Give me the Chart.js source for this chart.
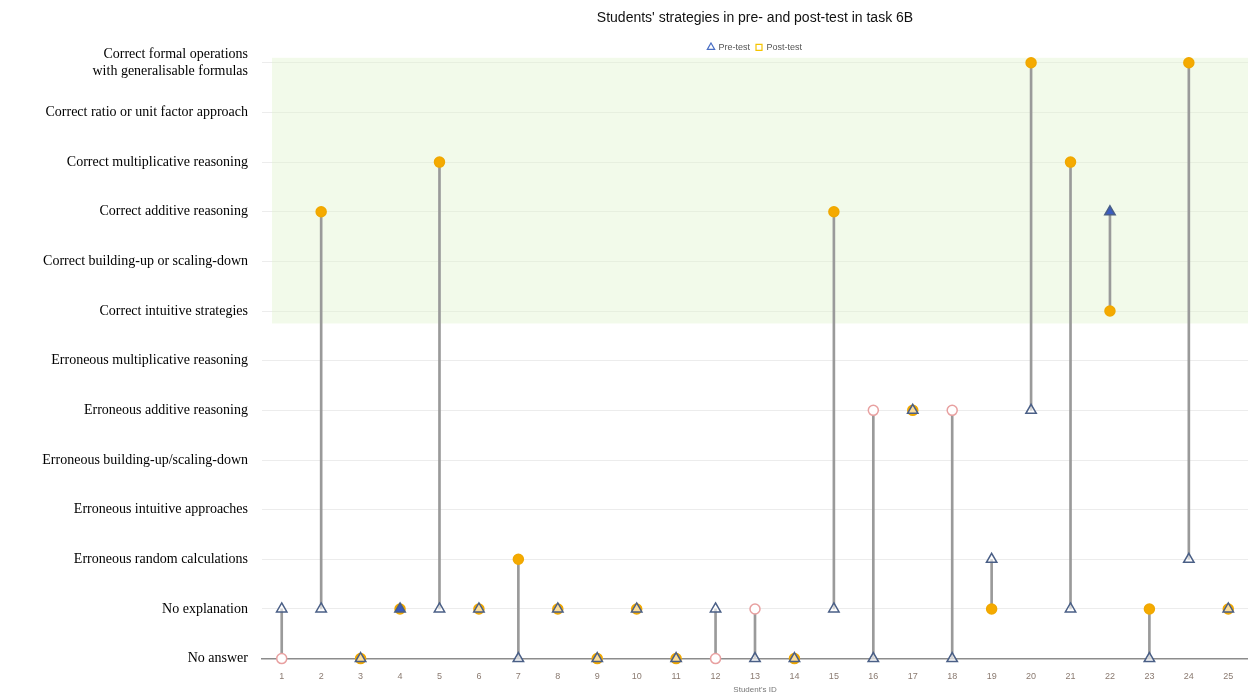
<!DOCTYPE html>
<html>
<head>
<meta charset="utf-8">
<script src="https://cdn.jsdelivr.net/npm/chart.js@4.4.1/dist/chart.umd.min.js"></script>
<style>
  html, body { margin: 0; padding: 0; background: #ffffff; }
  #wrap { width: 1248px; height: 695px; position: relative; }
</style>
</head>
<body>
<div id="wrap"><canvas id="c"></canvas></div>
<script>
const studentIds = ['1','2','3','4','5','6','7','8','9','10','11','12','13','14','15','16','17','18','19','20','21','22','23','24','25'];
const strategyLabels = [
  'No answer',
  'No explanation',
  'Erroneous random calculations',
  'Erroneous intuitive approaches',
  'Erroneous building-up/scaling-down',
  'Erroneous additive reasoning',
  'Erroneous multiplicative reasoning',
  'Correct intuitive strategies',
  'Correct building-up or scaling-down',
  'Correct additive reasoning',
  'Correct multiplicative reasoning',
  'Correct ratio or unit factor approach',
  ['Correct formal operations', 'with generalisable formulas']
];
const preTest  = [1,1,0,1,1,1,0,1,0,1,0,1,0,0,1,0,5,0,2,5,1,9,0,2,1];
const postTest = [0,9,0,1,10,1,2,1,0,1,0,0,1,0,9,5,5,5,1,12,10,7,1,12,1];
const openPostIds = ['1','12','13','16','18'];
const filledPreIds = ['4','22'];

const changeRanges = preTest.map((p, i) => [p, postTest[i]]);

const bandPlugin = {
  id: 'band',
  beforeDatasetsDraw(chart) {
    const {ctx, chartArea, scales} = chart;
    const y = scales.y;
    const top = y.getPixelForValue(12.1);
    const bot = y.getPixelForValue(6.75);
    ctx.save();
    ctx.fillStyle = 'rgba(226, 244, 208, 0.45)';
    ctx.fillRect(chartArea.left + 10, top, chartArea.right - chartArea.left - 10, bot - top);
    ctx.restore();
  }
};

const legendGap = {
  id: 'legendGap',
  beforeInit(chart) {
    const origFit = chart.legend.fit;
    chart.legend.fit = function () {
      origFit.bind(chart.legend)();
      this.height += 1;
    };
  }
};

new Chart(document.getElementById('c'), {
  type: 'bar',
  data: {
    labels: studentIds,
    datasets: [
      {
        type: 'line',
        label: 'Pre-test',
        data: preTest,
        showLine: false,
        pointStyle: 'triangle',
        pointRadius: 6,
        pointBorderWidth: 1.5,
        pointBorderColor: '#4a5f86',
        pointBackgroundColor: (c) => filledPreIds.includes(studentIds[c.dataIndex]) ? '#3a5cc0' : 'rgba(255,255,255,0.6)',
        backgroundColor: '#4a6fc4',
        borderColor: '#4a6fc4',
        clip: false,
        order: 0
      },
      {
        type: 'line',
        label: 'Post-test',
        data: postTest,
        showLine: false,
        pointStyle: 'circle',
        pointRadius: 5,
        pointBorderWidth: 1.5,
        pointBorderColor: (c) => openPostIds.includes(studentIds[c.dataIndex]) ? '#e8a0a0' : '#f0a800',
        pointBackgroundColor: (c) => openPostIds.includes(studentIds[c.dataIndex]) ? '#ffffff' : '#f5aa00',
        backgroundColor: '#f5c400',
        borderColor: '#f5c400',
        clip: false,
        order: 1
      },
      {
        type: 'bar',
        label: 'change',
        data: changeRanges,
        backgroundColor: '#9a9a9a',
        borderWidth: 0,
        barThickness: 2,
        order: 2
      }
    ]
  },
  options: {
    responsive: true,
    maintainAspectRatio: false,
    animation: false,
    layout: { autoPadding: false, padding: { left: 0, right: 0, top: 0, bottom: 0 } },
    plugins: {
      title: {
        display: true,
        fullSize: false,
        text: "Students' strategies in pre- and post-test in task 6B",
        font: { family: 'Liberation Sans', size: 14, weight: 'normal' },
        color: '#111',
        padding: { top: 10, bottom: 10 }
      },
      legend: {
        display: true,
        fullSize: false,
        labels: {
          generateLabels: () => [
            { text: 'Pre-test', pointStyle: 'triangle', fillStyle: '#ffffff', strokeStyle: '#4a6fc4', lineWidth: 1.2, fontColor: '#555', datasetIndex: 0 },
            { text: 'Post-test', pointStyle: 'rect', fillStyle: '#ffffff', strokeStyle: '#f5c400', lineWidth: 1.2, fontColor: '#555', datasetIndex: 1 }
          ],
          usePointStyle: true,
          boxWidth: 6,
          boxHeight: 6,
          font: { family: 'Liberation Sans', size: 9 },
          color: '#555',
          padding: 6
        }
      },
      tooltip: { enabled: false }
    },
    scales: {
      x: {
        offset: true,
        grid: { display: false, drawTicks: false },
        border: { display: true, color: '#8c8c8c', width: 1.5 },
        ticks: { font: { family: 'Liberation Sans', size: 9 }, color: '#8a7a70', padding: 13 },
        title: { display: true, text: "Student's ID", font: { family: 'Liberation Sans', size: 8 }, color: '#777', padding: { top: -10, bottom: 0 } }
      },
      y: {
        min: 0,
        max: 12,
        afterFit: (s) => { s.width = 262; },
        grid: { color: '#ececec', lineWidth: 1, drawTicks: false },
        border: { display: false },
        ticks: {
          stepSize: 1,
          padding: 14,
          font: { family: 'Liberation Serif', size: 14 },
          color: '#000',
          callback: (v) => strategyLabels[v]
        }
      }
    }
  },
  plugins: [bandPlugin, legendGap]
});
</script>
</body>
</html>
